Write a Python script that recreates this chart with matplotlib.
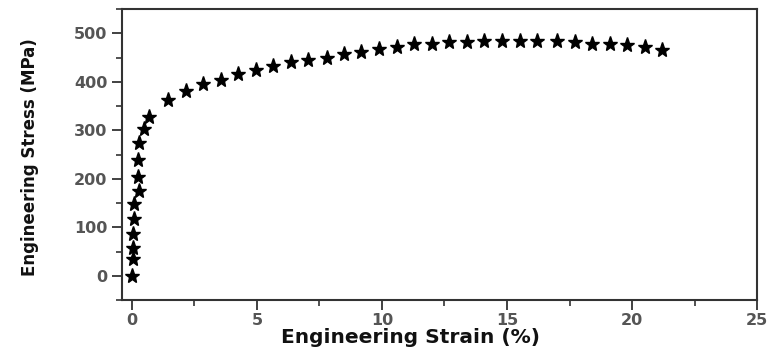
import matplotlib
matplotlib.use("Agg")
import matplotlib.pyplot as plt
from matplotlib.ticker import MultipleLocator

strain = [0.0, 0.05, 0.05, 0.05, 0.08, 0.1, 0.3, 0.25, 0.25, 0.3, 0.5, 0.7,
          1.45, 2.15, 2.85, 3.55, 4.25, 4.95, 5.65, 6.35, 7.05, 7.8, 8.5,
          9.15, 9.9, 10.6, 11.3, 12.0, 12.7, 13.4, 14.1, 14.8, 15.5, 16.2,
          17.0, 17.7, 18.4, 19.1, 19.8, 20.5, 21.2]
stress = [0, 35, 58, 87, 118, 149, 174, 203, 239, 273, 303, 327,
          362, 381, 395, 404, 417, 424, 432, 440, 446, 450, 457,
          461, 468, 472, 477, 479, 482, 482, 484, 484, 484, 484,
          484, 482, 479, 479, 475, 472, 465]

xticks = [0, 5, 10, 15, 20, 25]
yticks = [0, 100, 200, 300, 400, 500]

fig = plt.figure(figsize=(7.67, 3.49), dpi=100)
ax = fig.add_axes([0.159, 0.140, 0.828, 0.834])
ax.plot(strain, stress, linestyle='none', marker='*', markersize=11,
        color='black')

ax.set_xlim(-0.4, 25)
ax.set_ylim(-50, 550)
ax.set_xticks(xticks)
ax.set_yticks(yticks)
ax.xaxis.set_minor_locator(MultipleLocator(2.5))
ax.yaxis.set_minor_locator(MultipleLocator(50))
ax.tick_params(which='major', direction='out', length=7, width=1.3,
               colors='#333333', labelsize=11.5, labelcolor='#555555')
ax.tick_params(axis='x', which='major', pad=2)
ax.tick_params(which='minor', direction='out', length=4, width=1.2,
               colors='#333333')
for lab in ax.get_xticklabels() + ax.get_yticklabels():
    lab.set_fontweight('bold')
for s in ax.spines.values():
    s.set_linewidth(1.5)
    s.set_color('#333333')

ax.set_xlabel('Engineering Strain (%)', fontsize=14.5, fontweight='bold',
              family=['DejaVu Sans'], color='#111111')
ax.xaxis.set_label_coords(0.454, -0.095)
ax.set_ylabel('Engineering Stress (MPa)', fontsize=12, fontweight='bold',
              family=['DejaVu Sans'], color='#111111')
ax.yaxis.set_label_coords(-0.13, 0.49)

fig.savefig('out.png', dpi=100)
